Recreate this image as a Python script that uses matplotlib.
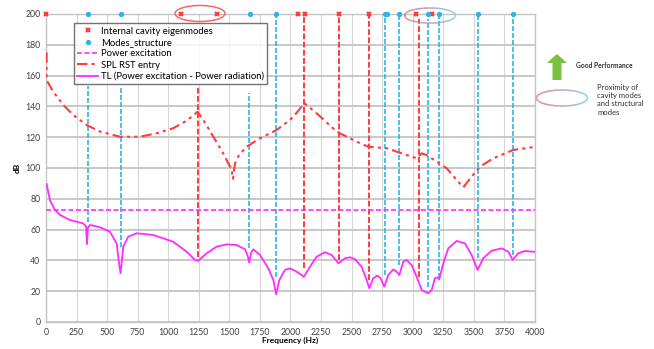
import numpy as np
import matplotlib.pyplot as plt
from matplotlib.colors import to_rgb
from matplotlib.patches import Ellipse, FancyArrow
from matplotlib.collections import LineCollection

plt.rcParams['font.family'] = ['Lato', 'DejaVu Sans']

# --- data -------------------------------------------------------------
# cavity eigenmodes / structural modes, markers drawn on the 200 dB line
cavity_modes_hz = [0, 1103, 1403, 2065, 2116, 2394, 2645, 3025, 3154]
struct_modes_hz = [346, 613, 1667, 1885, 2770, 2789, 2887, 3129, 3213, 3538, 3821]
marker_level = 200

# drop lines: frequency, top, bottom (dB)
cavity_line_hz = [1240, 2108, 2394, 2645, 3053]
cavity_line_top = [153, 200, 200, 200, 197]
cavity_line_bot = [42, 35, 40, 27, 29]

struct_line_hz = [346, 613, 1660, 1885, 2770, 2887, 3121, 3211, 3538, 3821]
struct_line_top = [153, 153, 149, 200, 200, 200, 197, 200, 200, 200]
struct_line_bot = [65, 49, 48, 29, 30.5, 37, 23, 28.5, 41.5, 43.5]

power_excitation = 73

spl_hz = [0, 5, 5, 60, 142, 223, 333, 442, 605, 769, 905, 1041, 1151, 1240,
          1287, 1369, 1450, 1519, 1530, 1546, 1580, 1641, 1751, 1887, 1996, 2023,
          2115, 2214, 2378, 2541, 2636, 2787, 2950, 3032, 3073, 3114, 3196, 3278,
          3359, 3414, 3482, 3550, 3659, 3823, 3973, 4000]
spl_db = [175, 174.5, 157, 149.5, 140.9, 134.4, 127.9, 123.6, 120.3, 120.3, 122.5, 125.8, 130.7, 136.5,
          131.2, 120.3, 109.5, 98.7, 93, 103, 108.5, 113.8, 119.3, 124.7, 131.2, 133.3,
          142, 135.5, 123.6, 117.1, 113.8, 112.8, 108.4, 106.3, 109.5, 108.4, 104.1, 99.8,
          92.2, 87.5, 94.4, 100.8, 106.3, 111.7, 113.4, 113.5]

tl_hz = [5, 33, 74, 115, 196, 305, 328, 335, 342, 360, 442, 523, 578, 598, 610, 632,
         673, 742, 877, 1041, 1151, 1219, 1246, 1314, 1396, 1478, 1560, 1628, 1650, 1663,
         1678, 1696, 1751, 1819, 1860, 1882, 1909, 1955, 1996, 2037, 2078, 2110, 2160,
         2214, 2282, 2337, 2392, 2446, 2487, 2528, 2582, 2623, 2645, 2677, 2710, 2737,
         2767, 2800, 2841, 2868, 2890, 2923, 2950, 2991, 3032, 3073, 3128, 3155, 3182,
         3204, 3217, 3250, 3291, 3359, 3427, 3482, 3531, 3577, 3646, 3728, 3782, 3818,
         3864, 3918, 3986, 4000]
tl_db = [89.6, 79, 72.7, 69.5, 66.2, 64, 62, 50.6, 61, 63, 61.5, 58.6, 51, 38, 31.6, 48.9,
         55.4, 57.6, 56.5, 52.1, 45.6, 40.3, 39.8, 44.6, 48.9, 50.4, 50, 47.2, 43, 38.5,
         45, 47.2, 43.5, 34.8, 27.3, 18, 27.3, 33.8, 34.8, 33.3, 31.2, 29.4, 35.9,
         42.4, 45.3, 43.5, 38.1, 41.4, 42, 40.7, 35.9, 27.3, 21.9, 28.4, 30.1, 28.4,
         22.9, 30.5, 34.2, 32.7, 30.5, 39.2, 40.3, 37, 29.4, 20.8, 18.6, 20.8, 28.4,
         29, 27.7, 38.1, 47.8, 52.6, 51.1, 43.5, 33.8, 41.4, 46.3, 47.8, 45.6, 40.3,
         44.6, 46.1, 45.6, 45.6]

RED = "#ff3b3b"
BLUE = "#2bb5e8"
MAGENTA = "#ff2bff"

fig = plt.figure(figsize=(6.54, 3.49), dpi=100)
ax = fig.add_axes([0.0703, 0.0774, 0.7477, 0.8826])

ax.vlines(cavity_line_hz, cavity_line_bot, cavity_line_top, colors=RED,
          linestyles=(0, (3, 1.2)), lw=1.4, zorder=3)
ax.vlines(struct_line_hz, struct_line_bot, struct_line_top, colors=BLUE,
          linestyles=(0, (3, 1.2)), lw=1.2, zorder=3)

ax.plot(cavity_modes_hz, [marker_level] * len(cavity_modes_hz), ls="none",
        marker="x", ms=3.5, mew=1.5, color=RED, clip_on=False, zorder=6,
        label="Internal cavity eigenmodes")
ax.plot(struct_modes_hz, [marker_level] * len(struct_modes_hz), ls="none",
        marker="o", ms=2.8, color=BLUE, clip_on=False, zorder=6,
        label="Modes_structure")
ax.axhline(power_excitation, color=MAGENTA, ls=(0, (3, 1.5)), lw=1.2, zorder=4,
           label="Power excitation")
ax.plot(spl_hz, spl_db, color=RED, ls=(0, (5, 2, 1.5, 2, 1.5, 2)), lw=1.5, zorder=4,
        label="SPL RST entry")
ax.plot(tl_hz, tl_db, color=MAGENTA, lw=1.3, zorder=5,
        label="TL (Power excitation - Power radiation)")

ax.set_xlim(0, 4000)
ax.set_ylim(0, 200)
ax.set_xticks(np.arange(0, 4001, 250))
ax.set_yticks(np.arange(0, 201, 20))
ax.tick_params(labelsize=6.3, colors="#404040", length=0, pad=4)
ax.grid(axis="y", color="#c4c4c4", lw=1.3)
ax.grid(axis="x", color="#d6d6d6", lw=0.8)
ax.set_axisbelow(True)
for s in ax.spines.values():
    s.set_color("#c4c4c4")
    s.set_linewidth(1.0)

ax.set_xlabel("Frequency (Hz)", fontsize=6, fontweight="bold")
ax.xaxis.set_label_coords(0.5, -0.047)
ax.set_ylabel("dB", fontsize=6, fontweight="bold", labelpad=3)

leg = ax.legend(loc="upper left", bbox_to_anchor=(0.057, 0.97), fontsize=6.8,
                frameon=True, fancybox=False, borderpad=0.35, labelspacing=0.25,
                handlelength=2.2, handletextpad=0.3, borderaxespad=0)
leg.get_frame().set_edgecolor("#505050")
leg.get_frame().set_linewidth(1.0)
leg.set_zorder(10)


def gradient_ellipse(cx, cy, w, h, c0, c1, lw=1.1):
    # ellipse outline coloured left-to-right from c0 to c1, in figure pixels
    t = np.linspace(0, 2 * np.pi, 200)
    x = cx + w / 2 * np.cos(t)
    y = cy + h / 2 * np.sin(t)
    pts = np.column_stack([x / 654, 1 - y / 349])
    segs = np.stack([pts[:-1], pts[1:]], axis=1)
    frac = ((x[:-1] + x[1:]) / 2 - (cx - w / 2)) / w
    a, b = np.array(to_rgb(c0)), np.array(to_rgb(c1))
    cols = [tuple(a + (b - a) * f) for f in frac]
    lc = LineCollection(segs, colors=cols, lw=lw, transform=fig.transFigure, zorder=20)
    fig.add_artist(lc)


# red ring around the cavity modes near 1100-1400 Hz
fig.add_artist(Ellipse((200 / 654, 1 - 13.5 / 349), 50 / 654, 16 / 349,
                       transform=fig.transFigure, fill=False, ec="#f06a6a", lw=1.1))
gradient_ellipse(430, 15.5, 51, 15, "#e66a80", "#6cc8f0")
gradient_ellipse(562, 98, 51, 16, "#e66a80", "#6cc8f0")

# green arrow for "Good Performance"
fig.add_artist(FancyArrow(557 / 654, 1 - 80 / 349, 0, 26 / 349, width=9 / 654,
                          head_width=20 / 654, head_length=9 / 349,
                          length_includes_head=True, transform=fig.transFigure,
                          color="#7ac142", ec="none"))
fig.text(576 / 654, 1 - 66 / 349, "Good Performance", fontsize=4.8,
         fontweight="bold", color="#303030", va="center")
fig.text(597 / 654, 1 - 84 / 349, "Proximity of\ncavity modes\nand structural\nmodes",
         fontsize=5.5, color="#303030", va="top", linespacing=1.2)

fig.savefig("out.png", dpi=100)
